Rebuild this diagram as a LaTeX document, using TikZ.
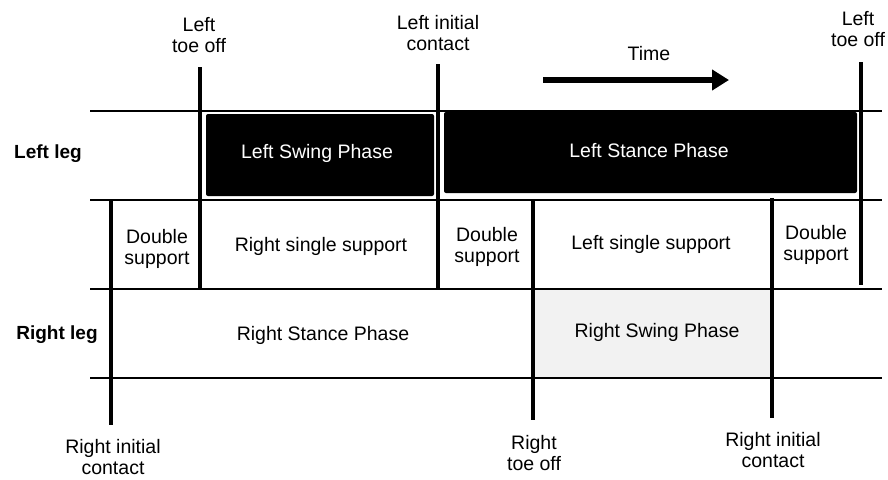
\documentclass[tikz,border=0pt]{standalone}
\usepackage{fontspec}
\setmainfont{Liberation Sans}
\usetikzlibrary{arrows.meta}
\tikzset{
  lbl/.style={inner sep=0pt, align=center, font=\fontsize{19.5}{21}\selectfont},
  rowlbl/.style={inner sep=0pt, font=\fontsize{19}{21}\selectfont\bfseries},
  phasebox/.style={fill=black, draw=none, rounded corners=2pt},
  phasetxt/.style={inner sep=0pt, text=white, font=\fontsize{19.5}{21}\selectfont},
  hline/.style={line width=2pt},
  vline/.style={line width=4.2pt},
}
\begin{document}
\begin{tikzpicture}[x=1pt,y=-1pt]
\useasboundingbox (0,0) rectangle (888,479);
% light stipple of right swing phase
\fill[black!5] (535,289) rectangle (770,378);
% black phase boxes
\fill[phasebox] (206,114) rectangle (434,196);
\fill[phasebox] (444,112) rectangle (857,193);
% horizontal grid lines
\draw[hline] (90,111) -- (882,111);
\draw[hline] (90,200) -- (882,200);
\draw[hline] (90,289) -- (882,289);
\draw[hline] (90,378) -- (882,378);
% vertical event lines
\draw[vline] (111,200) -- (111,425);
\draw[vline] (200,67) -- (200,290);
\draw[vline] (438,64) -- (438,289);
\draw[vline] (533,200) -- (533,420);
\draw[vline] (772,198) -- (772,418);
\draw[vline] (861,62) -- (861,285);
% time arrow
\coordinate (t0) at (543,80);
\coordinate (t1) at (729,80);
\node[lbl] (time) at (649,54) {Time};
\draw[line width=6.5pt, -{Triangle[length=17pt,width=20pt]}] (t0) -- (t1);
% top labels
\node[lbl] (lto1) at (199,35) {Left\\toe off};
\node[lbl] (lic) at (438,33) {Left initial\\contact};
\node[lbl] (lto2) at (858,29) {Left\\toe off};
% row labels
\node[rowlbl] (lleg) at (48,154) {Left leg};
\node[rowlbl] (rleg) at (57,335) {Right leg};
% phase texts
\node[phasetxt] (lsw) at (317,153) {Left Swing Phase};
\node[phasetxt] (lst) at (649,151) {Left Stance Phase};
% support row
\node[lbl] (ds1) at (157,249) {Double\\support};
\node[lbl] (rss) at (321,246) {Right single support};
\node[lbl] (ds2) at (487,247) {Double\\support};
\node[lbl] (lss) at (651,244) {Left single support};
\node[lbl] (ds3) at (816,245) {Double\\support};
% right leg row
\node[lbl] (rst) at (323,335) {Right Stance Phase};
\node[lbl] (rsw) at (657,332) {Right Swing Phase};
% bottom labels
\node[lbl] (ric1) at (113,457) {Right initial\\contact};
\node[lbl] (rto) at (534,453) {Right\\toe off};
\node[lbl] (ric2) at (773,450) {Right initial\\contact};
\end{tikzpicture}
\end{document}
